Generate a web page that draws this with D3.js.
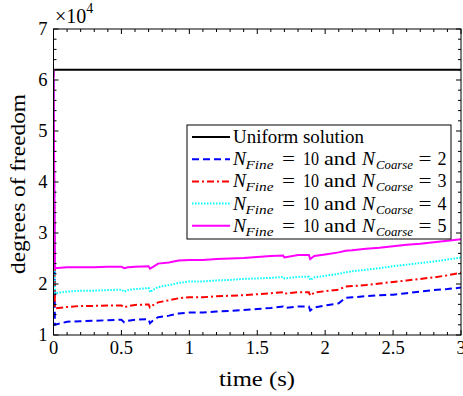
<!DOCTYPE html>
<html><head><meta charset="utf-8">
<script src="https://cdn.jsdelivr.net/npm/d3@7"></script>
<style>body{margin:0;background:#fff}svg{display:block}</style>
</head><body>
<script>
const times = [0,0.01,0.1,0.2,0.3,0.4,0.5,0.52,0.55,0.6,0.7,0.71,0.73,0.77,0.85,0.92,1.0,1.1,1.2,1.3,1.4,1.5,1.6,1.69,1.7,1.8,1.88,1.89,1.92,2.0,2.1,2.15,2.2,2.3,2.4,2.5,2.6,2.7,2.8,2.9,3.0];
const uniform = [6.2,6.2];
const uniformTimes = [0,3];
const c2 = [6.2,1.20,1.26,1.27,1.28,1.29,1.30,1.25,1.28,1.30,1.31,1.23,1.28,1.35,1.38,1.42,1.44,1.44,1.46,1.47,1.49,1.51,1.53,1.56,1.53,1.56,1.56,1.48,1.54,1.58,1.62,1.73,1.74,1.76,1.78,1.79,1.82,1.85,1.88,1.90,1.93];
const c3 = [6.2,1.52,1.55,1.57,1.57,1.58,1.58,1.54,1.57,1.59,1.60,1.54,1.58,1.64,1.68,1.72,1.74,1.74,1.76,1.77,1.78,1.80,1.82,1.84,1.81,1.84,1.84,1.77,1.83,1.86,1.89,1.95,1.96,1.98,2.01,2.04,2.07,2.10,2.13,2.17,2.22];
const c4 = [6.2,1.82,1.85,1.87,1.87,1.88,1.89,1.85,1.88,1.90,1.92,1.84,1.88,1.94,1.98,2.02,2.05,2.05,2.07,2.08,2.10,2.11,2.12,2.14,2.11,2.14,2.14,2.08,2.13,2.16,2.20,2.23,2.25,2.28,2.31,2.35,2.38,2.41,2.44,2.48,2.52];
const c5 = [6.2,2.31,2.33,2.33,2.33,2.34,2.34,2.31,2.33,2.34,2.35,2.30,2.33,2.40,2.42,2.46,2.47,2.47,2.49,2.50,2.51,2.53,2.55,2.56,2.52,2.57,2.57,2.49,2.55,2.58,2.62,2.65,2.66,2.69,2.71,2.74,2.77,2.79,2.82,2.85,2.88];
const xTicks = [0,0.5,1,1.5,2,2.5,3];
const xTickLabels = ["0","0.5","1","1.5","2","2.5","3"];
const yTicks = [1,2,3,4,5,6,7];
const coarseN = [2,3,4,5];

const FONT="'Liberation Serif','Times New Roman',serif";
const W=463,H=396;
const m={l:53.5,r:461,t:29,b:335};
const svg=d3.select("body").append("svg").attr("width",W).attr("height",H).attr("font-family",FONT);
const x=d3.scaleLinear().domain([0,3]).range([m.l,m.r]);
const y=d3.scaleLinear().domain([1,7]).range([m.b,m.t]);
svg.append("clipPath").attr("id","c").append("rect").attr("x",m.l).attr("y",m.t).attr("width",m.r-m.l).attr("height",m.b-m.t);

const series=[
 {t:uniformTimes,v:uniform,color:"#000",dash:null},
 {t:times,v:c2,color:"#0000ff",dash:"7,4"},
 {t:times,v:c3,color:"#ff0000",dash:"7,3,2,3"},
 {t:times,v:c4,color:"#00ffff",dash:"1.5,1.5"},
 {t:times,v:c5,color:"#ff00ff",dash:null}
];
const line=d3.line().x(d=>x(d[0])).y(d=>y(d[1]));
const g=svg.append("g").attr("clip-path","url(#c)");
series.forEach(s=>{
 g.append("path").attr("d",line(s.t.map((t,i)=>[t,s.v[i]]))).attr("fill","none")
  .attr("stroke",s.color).attr("stroke-width",2).attr("stroke-dasharray",s.dash);
});

const ax=svg.append("g");
ax.append("rect").attr("x",m.l).attr("y",m.t).attr("width",m.r-m.l).attr("height",m.b-m.t).attr("fill","none").attr("stroke","#000").attr("stroke-width",1);
const xminor=d3.range(0,3.001,0.1), yminor=d3.range(1,7.001,0.2);
xminor.forEach(v=>{const L=xTicks.some(t=>Math.abs(t-v)<1e-6)?5:3;
 ax.append("line").attr("x1",x(v)).attr("x2",x(v)).attr("y1",m.b).attr("y2",m.b-L).attr("stroke","#000");
 ax.append("line").attr("x1",x(v)).attr("x2",x(v)).attr("y1",m.t).attr("y2",m.t+L).attr("stroke","#000");});
yminor.forEach(v=>{const L=yTicks.some(t=>Math.abs(t-v)<1e-6)?5:3;
 ax.append("line").attr("y1",y(v)).attr("y2",y(v)).attr("x1",m.l).attr("x2",m.l+L).attr("stroke","#000");
 ax.append("line").attr("y1",y(v)).attr("y2",y(v)).attr("x1",m.r).attr("x2",m.r-L).attr("stroke","#000");});
xTicks.forEach((v,i)=>ax.append("text").attr("x",x(v)).attr("y",m.b+19).attr("text-anchor","middle").attr("font-size",18.5).text(xTickLabels[i]));
yTicks.forEach(v=>ax.append("text").attr("x",m.l-6).attr("y",y(v)+6).attr("text-anchor","end").attr("font-size",18.5).text(v));
const ex=svg.append("text").attr("x",55).attr("y",23).attr("font-size",20);
ex.append("tspan").text("×10");
ex.append("tspan").attr("font-size",14).attr("dy",-10).text("4");
svg.append("text").attr("x",257).attr("y",386).attr("text-anchor","middle").attr("font-size",20)
  .attr("textLength",76).attr("lengthAdjust","spacingAndGlyphs").text("time (s)");
svg.append("text").attr("transform",`translate(25,184) rotate(-90)`).attr("text-anchor","middle").attr("font-size",20.5)
  .attr("textLength",180).attr("lengthAdjust","spacingAndGlyphs").text("degrees of freedom");

const lg=svg.append("g");
lg.append("rect").attr("x",187).attr("y",125).attr("width",264).attr("height",114).attr("fill","#fff").attr("stroke","#000");
const piece=(t,str,x0,w,opts={})=>lg.append("text").attr("x",x0).attr("y",t).attr("font-size",opts.fs||18.5)
  .attr("font-style",opts.it?"italic":null).attr("textLength",w).attr("lengthAdjust","spacingAndGlyphs").text(str);
series.forEach((s,i)=>{
 const yy=137+i*22.2, by=yy+6;
 lg.append("line").attr("x1",192).attr("x2",230).attr("y1",yy).attr("y2",yy).attr("stroke",s.color).attr("stroke-width",2).attr("stroke-dasharray",s.dash);
 if(i===0){piece(by,"Uniform solution",233,131);}
 else{
  piece(by,"N",233,13,{it:1});
  piece(by+4,"Fine",245.5,28,{it:1,fs:13.5});
  piece(by,"=",282,13);
  piece(by,"10",303,16);
  piece(by,"and",324,32);
  piece(by,"N",362,13,{it:1});
  piece(by+4,"Coarse",376,37,{it:1,fs:13.5});
  piece(by,"=",418.5,13);
  piece(by,String(coarseN[i-1]),437.5,9);
 }
});
</script>
</body></html>
